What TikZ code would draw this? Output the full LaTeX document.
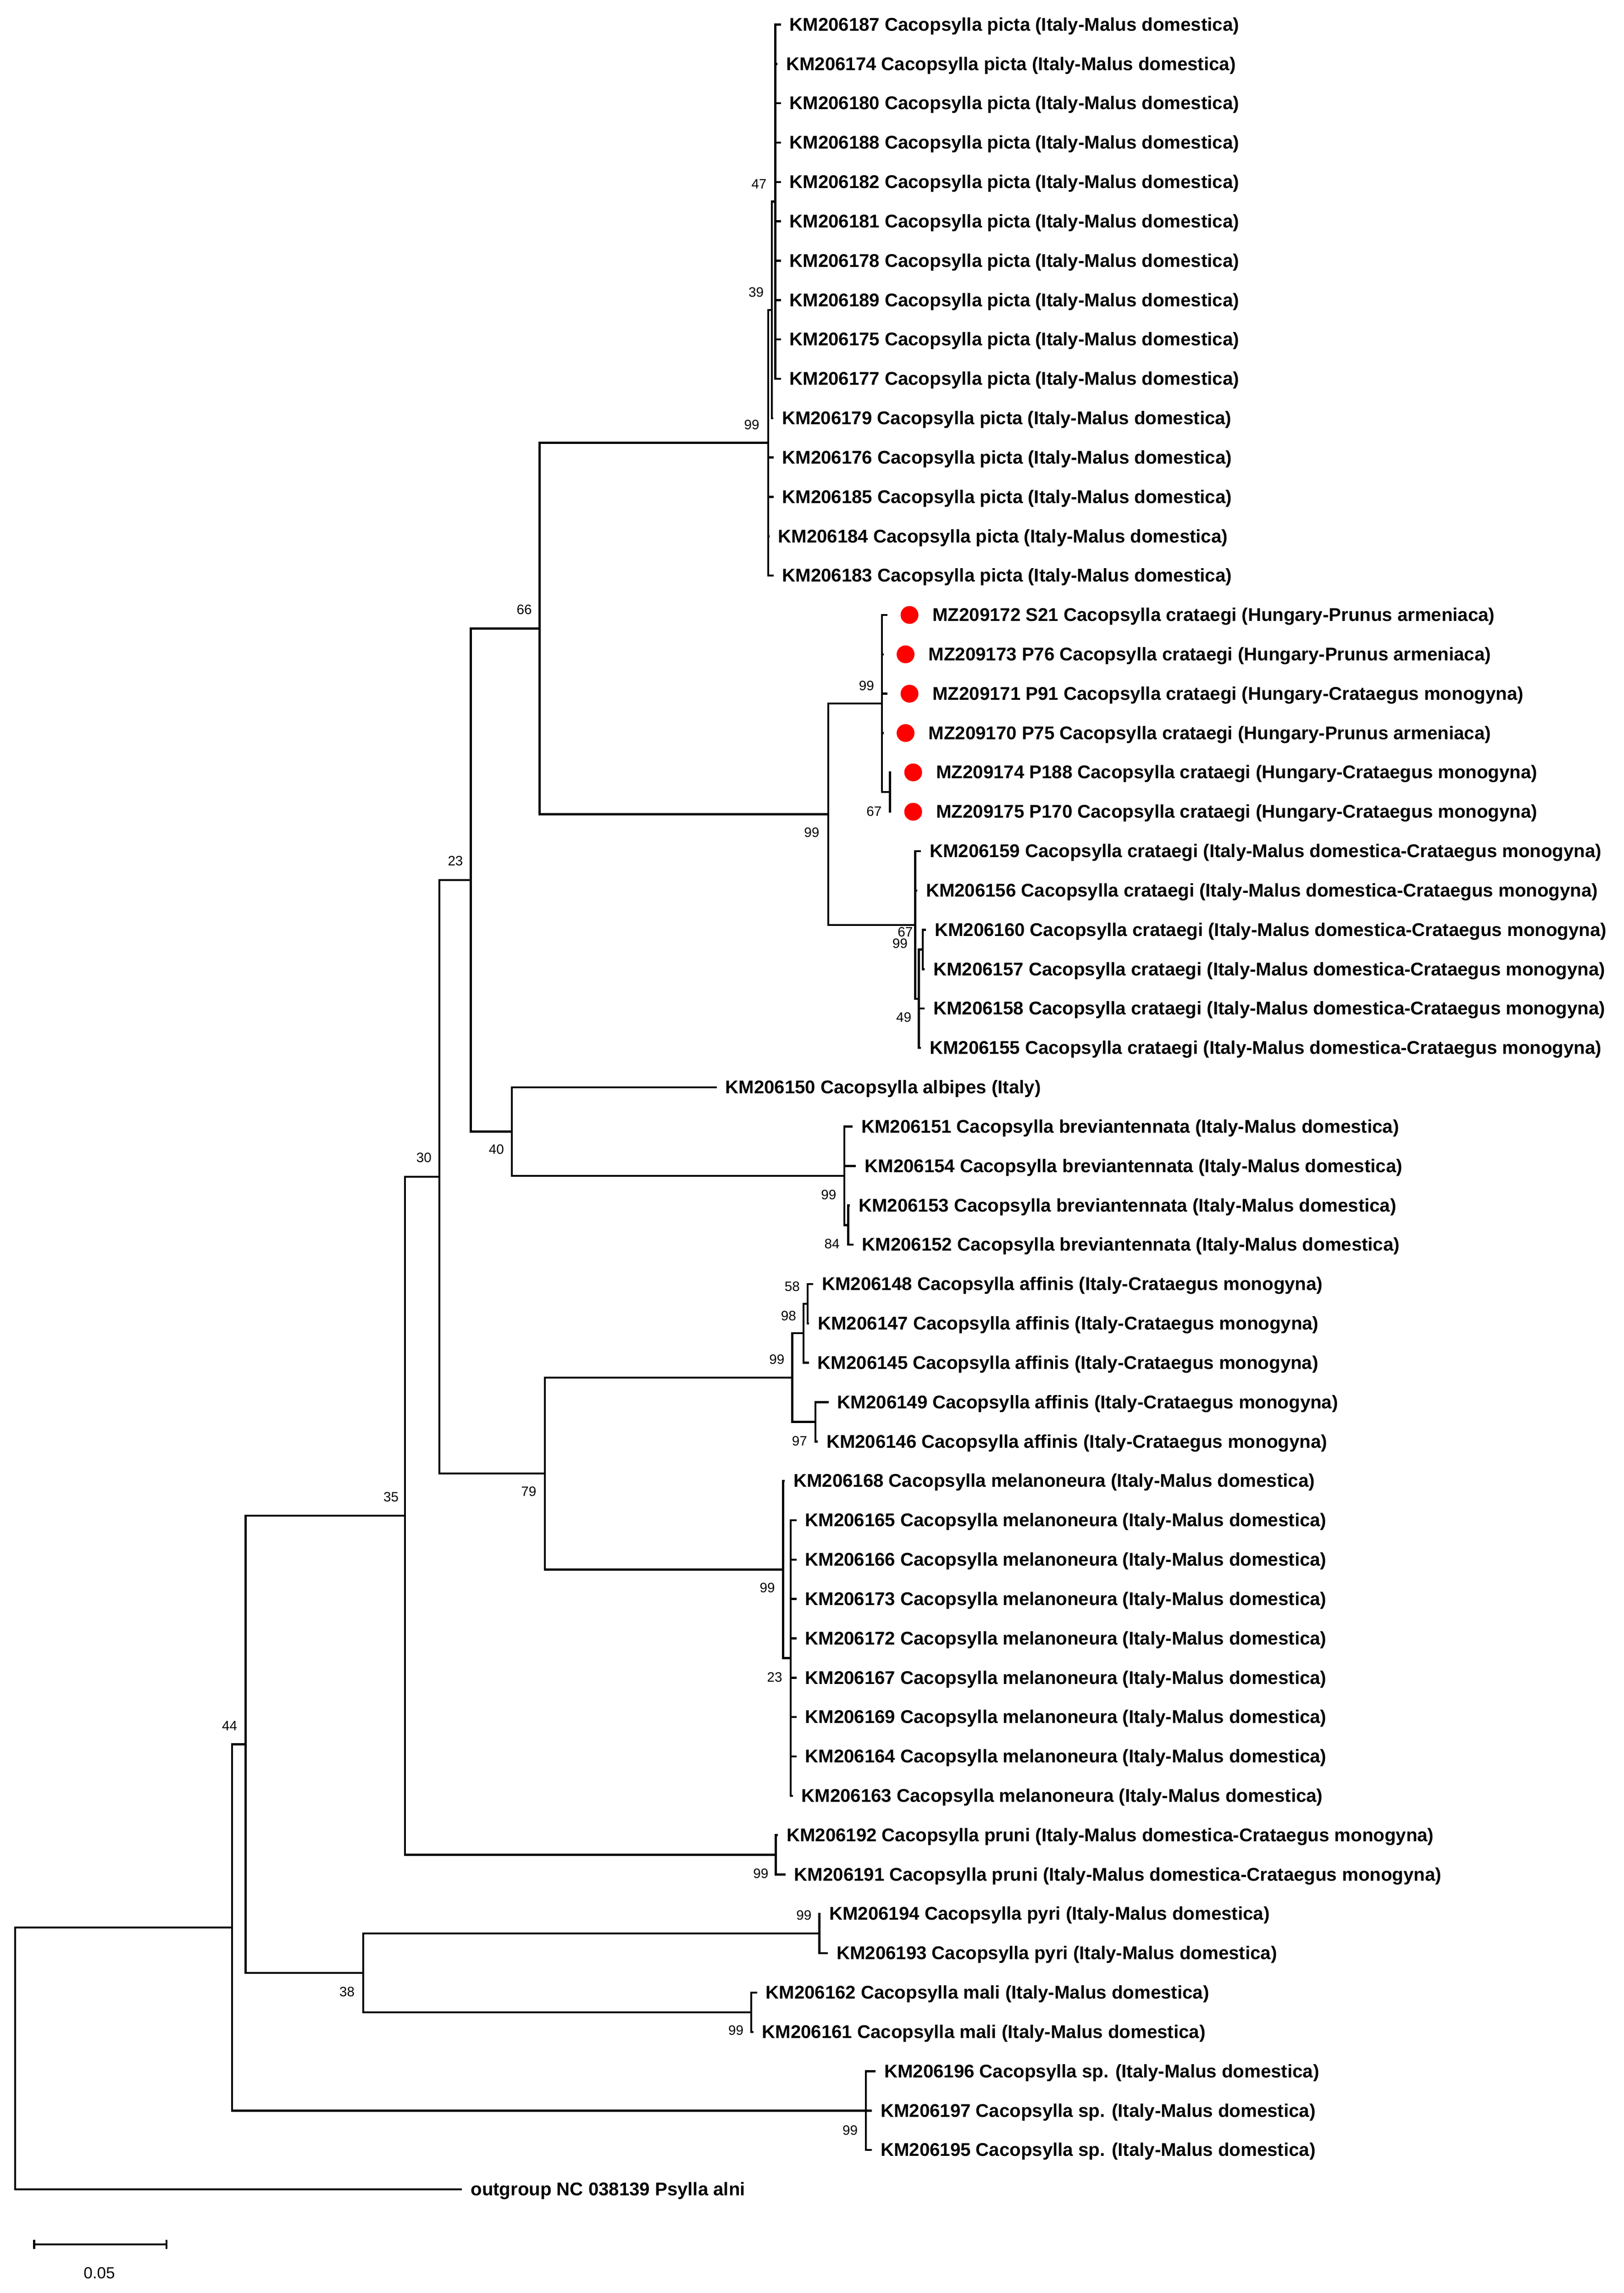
\documentclass[tikz,border=0pt]{standalone}
\usepackage{fontspec}
\setmainfont{Liberation Sans}
\newcommand\CPpicta{Cacopsylla picta (Italy-Malus domestica)}
\newcommand\CPcrat{Cacopsylla crataegi (Italy-Malus domestica-Crataegus monogyna)}
\newcommand\CPbrev{Cacopsylla breviantennata (Italy-Malus domestica)}
\newcommand\CPaff{Cacopsylla affinis (Italy-Crataegus monogyna)}
\newcommand\CPmel{Cacopsylla melanoneura (Italy-Malus domestica)}
\newcommand\CPpru{Cacopsylla pruni (Italy-Malus domestica-Crataegus monogyna)}
\newcommand\CPpyr{Cacopsylla pyri (Italy-Malus domestica)}
\newcommand\CPmal{Cacopsylla mali (Italy-Malus domestica)}
\newcommand\CPsp{Cacopsylla sp. (Italy-Malus domestica)}
\tikzset{
  br/.style={line width=1.4pt, line join=miter},
  lab/.style={anchor=base west, inner sep=0pt, font=\bfseries\fontsize{12.6}{14}\selectfont},
  bs/.style={inner sep=0pt, font=\fontsize{9.3}{10}\selectfont},
  reddot/.style={fill=red, draw=none},
}
\begin{document}
\begin{tikzpicture}[x=1pt,y=-1pt]
\fill[white] (0,0) rectangle (1110.2,1568);
\useasboundingbox (0,0) rectangle (1110.2,1568);

% ---- leaves: index / tip x / label
\foreach \i/\x/\lbl in {
0/533.9/{KM206187 \CPpicta},
1/531.6/{KM206174 \CPpicta},
2/533.9/{KM206180 \CPpicta},
3/533.9/{KM206188 \CPpicta},
4/533.9/{KM206182 \CPpicta},
5/533.9/{KM206181 \CPpicta},
6/533.9/{KM206178 \CPpicta},
7/533.9/{KM206189 \CPpicta},
8/533.9/{KM206175 \CPpicta},
9/533.9/{KM206177 \CPpicta},
10/528.7/{KM206179 \CPpicta},
11/528.9/{KM206176 \CPpicta},
12/528.9/{KM206185 \CPpicta},
13/526.1/{KM206184 \CPpicta},
14/528.9/{KM206183 \CPpicta},
21/629.8/{KM206159 \CPcrat},
22/627.2/{KM206156 \CPcrat},
23/633.2/{KM206160 \CPcrat},
24/632.3/{KM206157 \CPcrat},
25/632.3/{KM206158 \CPcrat},
26/629.8/{KM206155 \CPcrat},
27/490.0/{KM206150 Cacopsylla albipes (Italy)},
28/583.0/{KM206151 \CPbrev},
29/585.3/{KM206154 \CPbrev},
30/581.2/{KM206153 \CPbrev},
31/583.5/{KM206152 \CPbrev},
32/556.1/{KM206148 \CPaff},
33/553.3/{KM206147 \CPaff},
34/553.1/{KM206145 \CPaff},
35/566.6/{KM206149 \CPaff},
36/559.1/{KM206146 \CPaff},
37/536.6/{KM206168 \CPmel},
38/544.6/{KM206165 \CPmel},
39/544.6/{KM206166 \CPmel},
40/544.6/{KM206173 \CPmel},
41/544.6/{KM206172 \CPmel},
42/544.6/{KM206167 \CPmel},
43/544.6/{KM206169 \CPmel},
44/544.6/{KM206164 \CPmel},
45/542.1/{KM206163 \CPmel},
46/531.9/{KM206192 \CPpru},
47/537.1/{KM206191 \CPpru},
48/561.1/{KM206194 \CPpyr},
49/566.1/{KM206193 \CPpyr},
50/517.6/{KM206162 \CPmal},
51/515.1/{KM206161 \CPmal},
52/598.7/{KM206196 \CPsp},
53/596.2/{KM206197 \CPsp},
54/596.2/{KM206195 \CPsp},
55/315.9/{outgroup NC 038139 Psylla alni}%
}{
  \coordinate (t\i) at (\x,{16.8+26.915*\i});
  \node[lab] (l\i) at ([xshift=5.8pt,yshift=-4.3pt]t\i) {\lbl};
}

% ---- new Hungarian sequences (red dots)
\foreach \i/\x/\lbl in {
15/606.9/{MZ209172 S21 Cacopsylla crataegi (Hungary-Prunus armeniaca)},
16/604.2/{MZ209173 P76 Cacopsylla crataegi (Hungary-Prunus armeniaca)},
17/606.9/{MZ209171 P91 Cacopsylla crataegi (Hungary-Crataegus monogyna)},
18/604.2/{MZ209170 P75 Cacopsylla crataegi (Hungary-Prunus armeniaca)},
19/609.4/{MZ209174 P188 Cacopsylla crataegi (Hungary-Crataegus monogyna)},
20/609.4/{MZ209175 P170 Cacopsylla crataegi (Hungary-Crataegus monogyna)}%
}{
  \coordinate (t\i) at (\x,{16.8+26.915*\i});
  \fill[reddot] ([xshift=15pt]t\i) circle[radius=6.1pt];
  \node[lab] (l\i) at ([xshift=30.6pt,yshift=-4.3pt]t\i) {\lbl};
}

% ---- internal nodes
\coordinate (A) at (530.2,137.9);
\coordinate (B) at (527.7,211.95);
\coordinate (C) at (525.2,302.8);
\coordinate (H67) at (608.6,541.65);
\coordinate (Hun) at (603.1,481.1);
\coordinate (Y) at (631.0,649.3);
\coordinate (X) at (628.3,682.95);
\coordinate (Ita) at (625.8,632.5);
\coordinate (Cra) at (566.3,556.8);
\coordinate (N66) at (369.0,429.8);
\coordinate (Bs) at (580.0,837.75);
\coordinate (Br) at (577.3,804.1);
\coordinate (N40) at (350.0,773.8);
\coordinate (N23) at (321.9,601.8);
\coordinate (F58) at (552.2,891.55);
\coordinate (F98) at (549.5,911.7);
\coordinate (F97) at (557.5,972.25);
\coordinate (F99) at (541.7,942.0);
\coordinate (M23) at (540.7,1133.8);
\coordinate (M99) at (535.5,1073.25);
\coordinate (N79) at (372.5,1007.6);
\coordinate (N30) at (300.4,804.7);
\coordinate (Pru) at (530.4,1268.35);
\coordinate (N35) at (276.9,1036.5);
\coordinate (Pyr) at (560.2,1322.15);
\coordinate (Mal) at (513.7,1376.05);
\coordinate (N38) at (248.3,1349.1);
\coordinate (N44) at (168.0,1192.8);
\coordinate (Sp) at (592.0,1443.3);
\coordinate (N158) at (158.6,1318.05);
\coordinate (R) at (10.3,1407.6);

% ---- branches
\foreach \p/\c in {
A/t0,A/t1,A/t2,A/t3,A/t4,A/t5,A/t6,A/t7,A/t8,A/t9,
B/A,B/t10,
C/B,C/t11,C/t12,C/t13,C/t14,
Hun/t15,Hun/t16,Hun/t17,Hun/t18,Hun/H67,
H67/t19,H67/t20,
Ita/t21,Ita/t22,Ita/X,
X/Y,X/t25,X/t26,
Y/t23,Y/t24,
Cra/Hun,Cra/Ita,
N66/C,N66/Cra,
N40/t27,N40/Br,
Br/t28,Br/t29,Br/Bs,
Bs/t30,Bs/t31,
N23/N66,N23/N40,
F58/t32,F58/t33,
F98/F58,F98/t34,
F97/t35,F97/t36,
F99/F98,F99/F97,
M23/t38,M23/t39,M23/t40,M23/t41,M23/t42,M23/t43,M23/t44,M23/t45,
M99/t37,M99/M23,
N79/F99,N79/M99,
N30/N23,N30/N79,
Pru/t46,Pru/t47,
N35/N30,N35/Pru,
Pyr/t48,Pyr/t49,
Mal/t50,Mal/t51,
N38/Pyr,N38/Mal,
N44/N35,N44/N38,
Sp/t52,Sp/t53,Sp/t54,
N158/N44,N158/Sp,
R/N158,R/t55%
}{
  \draw[br] (\p) |- (\c);
}

% ---- bootstrap values
\node[bs] (b47) at (519.0,126.0) {47};
\node[bs] (b39) at (517.0,200.0) {39};
\node[bs] (b99a) at (514.0,290.5) {99};
\node[bs] (b66) at (358.5,417.0) {66};
\node[bs] (b99b) at (592.5,469.0) {99};
\node[bs] (b67a) at (597.7,554.7) {67};
\node[bs] (b99c) at (555.0,569.3) {99};
\node[bs] (b67b) at (619.0,637.2) {67};
\node[bs] (b99d) at (615.4,645.3) {99};
\node[bs] (b49) at (618.0,695.7) {49};
\node[bs] (b23a) at (311.4,588.8) {23};
\node[bs] (b40) at (339.4,786.0) {40};
\node[bs] (b99e) at (566.6,817.0) {99};
\node[bs] (b84) at (568.9,850.6) {84};
\node[bs] (b30) at (289.9,791.5) {30};
\node[bs] (b58) at (541.7,879.6) {58};
\node[bs] (b98) at (539.2,899.7) {98};
\node[bs] (b99f) at (531.2,929.7) {99};
\node[bs] (b97) at (546.7,985.3) {97};
\node[bs] (b79) at (361.5,1020.0) {79};
\node[bs] (b99g) at (524.7,1085.7) {99};
\node[bs] (b23b) at (529.7,1146.8) {23};
\node[bs] (b35) at (267.4,1023.7) {35};
\node[bs] (b99h) at (520.2,1281.1) {99};
\node[bs] (b44) at (157.0,1180.0) {44};
\node[bs] (b99i) at (549.7,1309.7) {99};
\node[bs] (b38) at (237.3,1362.0) {38};
\node[bs] (b99j) at (503.2,1388.5) {99};
\node[bs] (b99k) at (581.3,1456.9) {99};

% ---- scale bar
\coordinate (s1) at (23.4,1534.7);
\coordinate (s2) at (113.8,1534.7);
\draw[br] (s1) -- (s2);
\draw[br] ([yshift=3.2pt]s1) -- ([yshift=-3.2pt]s1);
\draw[br] ([yshift=3.2pt]s2) -- ([yshift=-3.2pt]s2);
\node[inner sep=0pt, font=\fontsize{11}{12}\selectfont] (scl) at (67.9,1554.3) {0.05};
\end{tikzpicture}
\end{document}
